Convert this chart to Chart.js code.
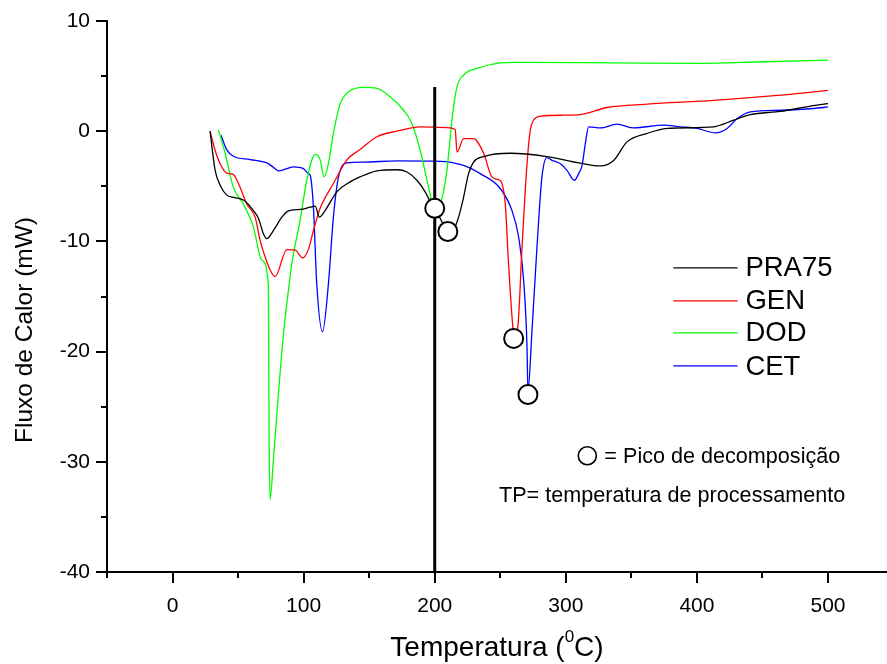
<!DOCTYPE html>
<html>
<head>
<meta charset="utf-8">
<script src="https://cdn.jsdelivr.net/npm/chart.js@4.4.1/dist/chart.umd.min.js"></script>
<style>
  html, body { margin: 0; padding: 0; background: #fff; }
  #wrap { width: 887px; height: 664px; position: relative; }
</style>
</head>
<body>
<div id="wrap"><canvas id="dsc"></canvas></div>
<script>
// DSC curves, heat flow (mW) vs temperature (C)
const pra75Temp = [28.6, 32.4, 36.3, 41.4, 46.4, 54, 61.7, 65.5, 69.3, 71.9, 77, 83.4, 88.4, 97.3, 105, 108.8, 112, 116.4, 125.3, 135.5, 143, 155.9, 171, 178.8, 186.4, 192.7, 196.6, 200, 205, 210, 214, 218.2, 222, 225.8, 229.6, 237.3, 257.6, 285.6, 311, 326.3, 336.5, 346.7, 362, 377.3, 412.8, 428, 440.8, 463.7, 486.6, 500]
const pra75Flux = [0, -3.5, -4.9, -5.8, -6.0, -6.25, -7.2, -7.9, -9.3, -9.75, -9.0, -7.8, -7.23, -7.1, -6.9, -6.8, -7.8, -7.2, -5.5, -4.6, -4.15, -3.6, -3.5, -3.7, -4.45, -5.5, -6.4, -7.0, -8.1, -9.1, -9.0, -7.8, -6.0, -3.85, -2.8, -2.3, -2.0, -2.3, -2.9, -3.15, -2.65, -0.97, -0.2, 0.25, 0.4, 1.0, 1.5, 1.8, 2.27, 2.5]

const genTemp = [28.6, 32.4, 36.3, 41.4, 46, 50.3, 56.6, 63, 66.8, 70.6, 74.4, 78.2, 87.2, 93.5, 99.4, 103.7, 107.5, 112.6, 122.7, 133, 143.1, 155.9, 171.1, 189, 209.3, 215.6, 217, 222, 229.6, 237.3, 243.6, 248.7, 251.3, 253.8, 256.3, 259.7, 260.5, 263.2, 266.6, 270.4, 272.9, 275.4, 280.5, 298.3, 311, 331.4, 362, 412.8, 463.7, 489.2, 500]
const genFlux = [0, -1.7, -2.95, -3.8, -3.9, -4.75, -6.6, -7.8, -9.9, -11.4, -12.6, -13.2, -10.75, -10.8, -11.5, -10.7, -9.0, -7.0, -4.75, -2.6, -1.66, -0.5, 0, 0.4, 0.33, 0.15, -1.9, -0.67, -0.67, -2.0, -4.15, -4.4, -4.75, -6.6, -12, -17.9, -18.4, -17.9, -10.5, -2.95, 0.1, 1.0, 1.36, 1.45, 1.5, 2.15, 2.45, 2.8, 3.27, 3.57, 3.7]

const dodTemp = [35, 40.1, 46.4, 54, 61.7, 68.1, 73.1, 73.6, 74.4, 76.9, 80.8, 84.6, 88.4, 91, 97.3, 102.4, 108.8, 112.6, 115.6, 118.9, 122.7, 127.9, 134.2, 145.6, 155.9, 166, 176.2, 182.6, 188.9, 195.3, 200, 205.5, 209.3, 213.1, 216.9, 222, 232.2, 250, 260.2, 336.5, 400, 451, 500]
const dodFlux = [0.1, -2.0, -5.1, -6.6, -8.7, -11.7, -13.9, -27, -33.4, -29.9, -23.8, -18.4, -14.45, -12.0, -8.1, -4.45, -2.1, -2.6, -4.15, -2.95, -0.2, 2.5, 3.57, 3.97, 3.88, 3.12, 1.9, 0.7, -1.73, -5.06, -7.2, -6.1, -3.55, 1.0, 4.0, 5.1, 5.7, 6.2, 6.25, 6.2, 6.15, 6.3, 6.45]

const cetTemp = [37, 41.4, 46.4, 59.2, 71.9, 76.5, 80.8, 87.2, 92.2, 99.8, 103.7, 105, 107.5, 110, 114.4, 118.9, 122.7, 126.6, 133, 145.6, 171, 204.2, 222, 234.7, 250, 258.9, 264, 267.8, 270.4, 271.1, 274.2, 278, 281.8, 285.6, 289.5, 295.8, 300.9, 306.5, 309.8, 312.4, 314.9, 317.4, 326.3, 339.1, 351.8, 374.7, 387.4, 400.2, 414.1, 423, 430.7, 440.8, 463.7, 489.2, 500]
const cetFlux = [-0.36, -1.7, -2.27, -2.57, -2.88, -3.24, -3.6, -3.4, -3.24, -3.4, -3.85, -4.0, -7.0, -13.85, -18.2, -13.85, -7.8, -4.15, -2.88, -2.8, -2.7, -2.73, -3.1, -3.85, -5.2, -7.2, -9.6, -13.5, -19.6, -23.6, -18.1, -10.5, -4.15, -2.4, -2.64, -2.95, -3.55, -4.45, -3.85, -3.1, -1.1, 0.4, 0.3, 0.64, 0.3, 0.55, 0.4, 0.25, -0.15, 0.25, 1.15, 1.75, 1.9, 2.06, 2.2]

// decomposition peaks (open circles)
const peakTemp = [200, 210, 260.2, 271.1]
const peakFlux = [-7.0, -9.1, -18.8, -23.9]

// processing temperature line (TP)
const tpTemp = [200, 200]
const tpFlux = [4.0, -40]

const seriesNames = ['PRA75', 'GEN', 'DOD', 'CET']
const seriesColors = ['#000000', '#ff0000', '#00ff00', '#0000ff']

const xTicks = [-50, 0, 50, 100, 150, 200, 250, 300, 350, 400, 450, 500]
const yTicks = [-40, -35, -30, -25, -20, -15, -10, -5, 0, 5, 10]

const fontFamily = "'Liberation Sans', Arial, sans-serif"

function toPoints(xs, ys) {
  return xs.map((x, i) => ({ x: x, y: ys[i] }))
}

const curves = [
  toPoints(pra75Temp, pra75Flux),
  toPoints(genTemp, genFlux),
  toPoints(dodTemp, dodFlux),
  toPoints(cetTemp, cetFlux)
]

const datasets = []
datasets.push({
  label: 'peaks',
  data: toPoints(peakTemp, peakFlux),
  showLine: false,
  pointRadius: 9.5,
  pointBorderWidth: 2,
  pointBorderColor: '#000',
  pointBackgroundColor: '#fff',
  order: 0
})
datasets.push({
  label: 'TP',
  data: toPoints(tpTemp, tpFlux),
  borderColor: '#000',
  borderWidth: 3,
  pointRadius: 0,
  order: 1
})
for (let i = 0; i < curves.length; i++) {
  datasets.push({
    label: seriesNames[i],
    data: curves[i],
    borderColor: seriesColors[i],
    borderWidth: 1.3,
    pointRadius: 0,
    cubicInterpolationMode: 'monotone',
    order: 2 + i
  })
}

// tick marks: major longer than minor, drawn outside the axes
const tickMarks = {
  id: 'tickMarks',
  afterDraw(chart) {
    const ctx = chart.ctx
    const xs = chart.scales.x
    const ys = chart.scales.y
    ctx.save()
    ctx.strokeStyle = '#000'
    ctx.lineWidth = 2
    xTicks.forEach(v => {
      const px = Math.round(xs.getPixelForValue(v))
      const len = (v % 100 === 0) ? 11 : 6
      ctx.beginPath()
      ctx.moveTo(px, xs.top)
      ctx.lineTo(px, xs.top + len)
      ctx.stroke()
    })
    yTicks.forEach(v => {
      const py = Math.round(ys.getPixelForValue(v))
      const len = (v % 10 === 0) ? 11 : 6
      ctx.beginPath()
      ctx.moveTo(ys.right, py)
      ctx.lineTo(ys.right - len, py)
      ctx.stroke()
    })
    ctx.restore()
  }
}

// legend, notes and axis titles
const extras = {
  id: 'extras',
  afterDraw(chart) {
    const ctx = chart.ctx
    const xs = chart.scales.x
    const ys = chart.scales.y
    const area = chart.chartArea
    ctx.save()

    // legend inside plot
    const legendY = [-12.4, -15.4, -18.3, -21.3]
    ctx.font = '27.5px ' + fontFamily
    ctx.textBaseline = 'middle'
    ctx.textAlign = 'left'
    for (let i = 0; i < seriesNames.length; i++) {
      const py = ys.getPixelForValue(legendY[i])
      ctx.strokeStyle = seriesColors[i]
      ctx.lineWidth = 1.3
      ctx.beginPath()
      ctx.moveTo(xs.getPixelForValue(382), py)
      ctx.lineTo(xs.getPixelForValue(431), py)
      ctx.stroke()
      ctx.fillStyle = '#000'
      ctx.fillText(seriesNames[i], xs.getPixelForValue(437), py + 1)
    }

    // notes
    ctx.font = '21.6px ' + fontFamily
    ctx.beginPath()
    ctx.arc(xs.getPixelForValue(316.4), ys.getPixelForValue(-29.45), 9, 0, Math.PI * 2)
    ctx.fillStyle = '#fff'
    ctx.fill()
    ctx.strokeStyle = '#000'
    ctx.lineWidth = 1.6
    ctx.stroke()
    ctx.fillStyle = '#000'
    ctx.fillText('= Pico de decomposição', xs.getPixelForValue(329.4), ys.getPixelForValue(-29.6))
    ctx.fillText('TP= temperatura de processamento', xs.getPixelForValue(249), ys.getPixelForValue(-33.1))

    // x title with superscript
    const cx = (area.left + area.right) / 2
    const ty = 648
    ctx.font = '28px ' + fontFamily
    const a = 'Temperatura ('
    const c = 'C)'
    const wa = ctx.measureText(a).width
    const wc = ctx.measureText(c).width
    ctx.font = '17px ' + fontFamily
    const wb = ctx.measureText('0').width
    let x0 = cx - (wa + wb + wc) / 2
    ctx.font = '28px ' + fontFamily
    ctx.fillText(a, x0, ty)
    ctx.font = '17px ' + fontFamily
    ctx.fillText('0', x0 + wa, ty - 11)
    ctx.font = '28px ' + fontFamily
    ctx.fillText(c, x0 + wa + wb, ty)

    // y title
    ctx.translate(25, 330)
    ctx.rotate(-Math.PI / 2)
    ctx.textAlign = 'center'
    ctx.font = '24.5px ' + fontFamily
    ctx.fillText('Fluxo de Calor (mW)', 0, 0)
    ctx.restore()
  }
}

new Chart(document.getElementById('dsc'), {
  type: 'line',
  data: { datasets: datasets },
  options: {
    responsive: true,
    maintainAspectRatio: false,
    animation: false,
    layout: { autoPadding: false, padding: { top: 21, right: 0, left: 0, bottom: 0 } },
    plugins: {
      legend: { display: false },
      tooltip: { enabled: false }
    },
    scales: {
      x: {
        type: 'linear',
        min: -50,
        max: 545,
        afterBuildTicks: scale => { scale.ticks = xTicks.map(v => ({ value: v })) },
        afterFit: scale => {
          scale.height = 92
          scale.paddingLeft = 0
          scale.paddingRight = 0
        },
        grid: { display: false, drawTicks: false },
        border: { display: true, color: '#000', width: 2 },
        ticks: {
          autoSkip: false,
          maxRotation: 0,
          padding: 22,
          color: '#000',
          font: { family: fontFamily, size: 21 },
          callback: v => (v % 100 === 0 ? v : '')
        }
      },
      y: {
        type: 'linear',
        min: -40,
        max: 10,
        afterBuildTicks: scale => { scale.ticks = yTicks.map(v => ({ value: v })) },
        afterFit: scale => {
          scale.width = 107
          scale.paddingTop = 0
          scale.paddingBottom = 0
        },
        grid: { display: false, drawTicks: false },
        border: { display: true, color: '#000', width: 2 },
        ticks: {
          autoSkip: false,
          padding: 17,
          color: '#000',
          font: { family: fontFamily, size: 21 },
          callback: v => (v % 10 === 0 ? v : '')
        }
      }
    }
  },
  plugins: [tickMarks, extras]
})
</script>
</body>
</html>
